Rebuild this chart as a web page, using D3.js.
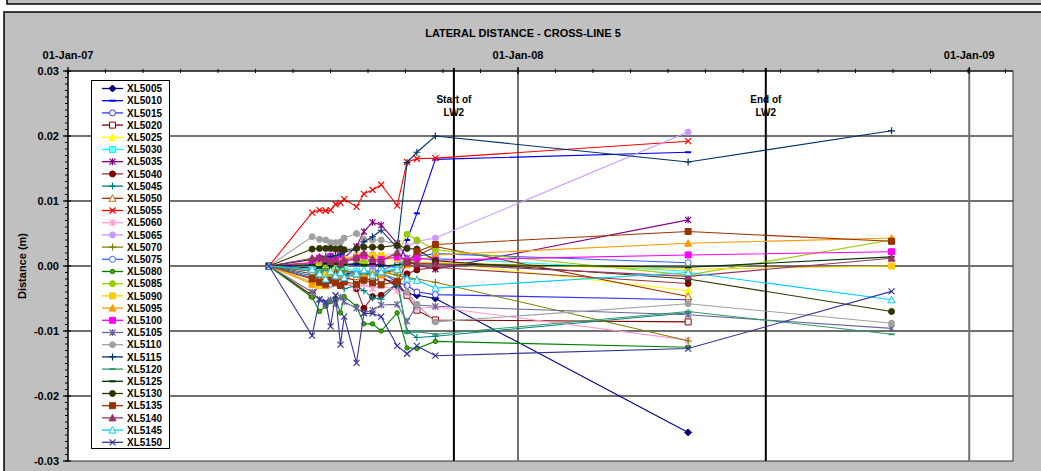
<!DOCTYPE html>
<html><head><meta charset="utf-8">
<script src="https://cdn.jsdelivr.net/npm/d3@7"></script>
<style>body{margin:0;background:#fff}svg{display:block}text{font-family:"Liberation Sans",Arial,sans-serif;font-weight:bold;fill:#000}</style>
</head><body>
<script>
// ---------- DATA ----------
const dates = ["2007-06-13","2007-07-18","2007-07-24","2007-07-29","2007-08-02","2007-08-06","2007-08-10","2007-08-13","2007-08-23","2007-08-29","2007-09-05","2007-09-12","2007-09-25","2007-10-03","2007-10-11","2007-10-26","2008-05-18","2008-10-30"];
const seriesNames = ["XL5005","XL5010","XL5015","XL5020","XL5025","XL5030","XL5035","XL5040","XL5045","XL5050","XL5055","XL5060","XL5065","XL5070","XL5075","XL5080","XL5085","XL5090","XL5095","XL5100","XL5105","XL5110","XL5115","XL5120","XL5125","XL5130","XL5135","XL5140","XL5145","XL5150"];
const XL5005 = [0,-0.0003,-0.0005,-0.0008,-0.0006,-0.0010,-0.0008,-0.0012,-0.0010,-0.0014,-0.0012,-0.0016,-0.0032,-0.0042,-0.0045,-0.0050,-0.0256,null];
const XL5010 = [0,0.0002,0.0000,0.0003,0.0001,0.0002,0.0000,0.0003,0.0002,0.0004,0.0001,0.0003,-0.0003,0.0040,0.0081,0.0164,0.0175,null];
const XL5015 = [0,-0.0018,-0.0022,-0.0015,-0.0020,-0.0012,-0.0018,-0.0010,-0.0008,-0.0012,-0.0006,-0.0010,-0.0025,-0.0030,-0.0040,-0.0044,-0.0052,null];
const XL5020 = [0,-0.0045,-0.0028,-0.0022,-0.0026,-0.0020,-0.0024,-0.0018,-0.0022,-0.0019,-0.0023,-0.0020,-0.0025,-0.0045,-0.0068,-0.0083,-0.0086,null];
const XL5025 = [0,0.0008,0.0005,0.0010,0.0006,0.0012,0.0008,0.0010,0.0014,0.0011,0.0015,0.0012,0.0008,0.0006,0.0005,0.0006,-0.0038,null];
const XL5030 = [0,-0.0005,-0.0010,-0.0008,-0.0012,-0.0006,-0.0010,-0.0004,-0.0008,-0.0011,-0.0006,-0.0009,-0.0004,0.0006,0.0010,0.0012,-0.0008,null];
const XL5035 = [0,0.0005,0.0008,0.0010,0.0012,0.0008,0.0010,0.0012,0.0030,0.0053,0.0067,0.0063,0.0035,0.0012,0.0002,-0.0005,0.0071,null];
const XL5040 = [0,-0.0012,-0.0015,-0.0010,-0.0018,-0.0013,-0.0020,-0.0025,-0.0035,-0.0065,-0.0047,-0.0045,-0.0027,-0.0012,-0.0006,-0.0002,-0.0027,null];
const XL5045 = [0,-0.0015,-0.0020,-0.0018,-0.0024,-0.0020,-0.0026,-0.0035,-0.0030,-0.0038,-0.0049,-0.0051,-0.0027,-0.0100,-0.0110,-0.0108,-0.0072,null];
const XL5050 = [0,-0.0008,-0.0012,-0.0006,-0.0010,-0.0014,-0.0008,-0.0012,-0.0016,-0.0010,-0.0014,-0.0011,-0.0006,0.0004,0.0015,0.0030,-0.0047,null];
const XL5055 = [0,0.0082,0.0086,0.0085,0.0086,0.0095,0.0097,0.0103,0.0091,0.0111,0.0117,0.0125,0.0093,0.0160,0.0165,0.0166,0.0192,null];
const XL5060 = [0,-0.0020,-0.0025,-0.0018,-0.0028,-0.0022,-0.0030,-0.0026,-0.0032,-0.0028,-0.0035,-0.0030,-0.0038,-0.0042,-0.0065,-0.0063,-0.0114,null];
const XL5065 = [0,0.0010,0.0012,0.0008,0.0014,0.0011,0.0015,0.0012,0.0016,0.0013,0.0018,0.0015,0.0020,0.0030,0.0038,0.0043,0.0206,null];
const XL5070 = [0,-0.0005,-0.0008,-0.0004,-0.0009,-0.0006,-0.0010,-0.0007,-0.0011,-0.0008,-0.0012,-0.0009,-0.0014,-0.0018,-0.0020,-0.0025,-0.0115,null];
const XL5075 = [0,-0.0025,-0.0030,-0.0022,-0.0028,-0.0020,-0.0026,-0.0018,-0.0012,-0.0010,-0.0008,-0.0006,0.0002,0.0010,0.0015,0.0019,0.0005,null];
const XL5080 = [0,-0.0048,-0.0070,-0.0062,-0.0055,-0.0051,-0.0072,-0.0047,-0.0062,-0.0089,-0.0089,-0.0100,-0.0072,-0.0126,-0.0127,-0.0116,-0.0125,null];
const XL5085 = [0,0.0003,0.0006,0.0002,0.0005,0.0008,0.0004,0.0007,0.0010,0.0006,0.0009,0.0012,0.0018,0.0049,0.0040,0.0025,-0.0014,0.0040];
const XL5090 = [0,-0.0025,-0.0030,-0.0015,-0.0010,0.0005,0.0008,0.0010,0.0015,0.0016,0.0016,0.0016,0.0012,0.0008,0.0006,0.0005,-0.0005,0.0000];
const XL5095 = [0,-0.0028,-0.0022,-0.0030,-0.0018,-0.0024,-0.0015,-0.0020,-0.0012,-0.0016,-0.0010,-0.0014,-0.0006,0.0002,0.0008,0.0017,0.0035,0.0043];
const XL5100 = [0,0.0005,0.0012,0.0008,0.0015,0.0010,0.0018,0.0006,0.0012,0.0016,0.0004,0.0010,0.0014,0.0008,0.0012,0.0009,0.0017,0.0022];
const XL5105 = [0,-0.0040,-0.0052,-0.0058,-0.0052,-0.0058,-0.0048,-0.0055,-0.0065,-0.0072,-0.0068,-0.0060,-0.0059,-0.0085,-0.0060,-0.0062,-0.0075,-0.0096];
const XL5110 = [0,0.0045,0.0041,0.0040,0.0036,0.0036,0.0037,0.0043,0.0050,0.0041,0.0040,0.0040,0.0033,-0.0040,-0.0059,-0.0086,-0.0058,-0.0088];
const XL5115 = [0,0.0010,0.0012,0.0015,0.0014,0.0016,0.0018,0.0022,0.0025,0.0037,0.0045,0.0055,0.0028,0.0159,0.0175,0.0200,0.0160,0.0208];
const XL5120 = [0,-0.0008,-0.0012,-0.0006,-0.0010,-0.0014,-0.0009,-0.0013,-0.0016,-0.0011,-0.0015,-0.0012,-0.0020,-0.0103,-0.0101,-0.0105,-0.0070,-0.0105];
const XL5125 = [0,0.0002,-0.0002,0.0004,0.0000,0.0003,-0.0001,0.0002,0.0004,0.0001,0.0003,0.0000,0.0002,0.0004,0.0003,0.0003,-0.0002,0.0014];
const XL5130 = [0,0.0026,0.0027,0.0027,0.0027,0.0026,0.0027,0.0025,0.0027,0.0029,0.0029,0.0029,0.0032,0.0027,0.0026,0.0008,-0.0020,-0.0070];
const XL5135 = [0,-0.0020,-0.0025,-0.0028,-0.0022,-0.0026,-0.0030,-0.0024,-0.0028,-0.0022,-0.0026,-0.0029,-0.0024,0.0005,0.0022,0.0033,0.0053,0.0038];
const XL5140 = [0,0.0012,0.0014,0.0012,0.0007,0.0010,0.0004,0.0009,0.0013,0.0020,0.0011,0.0008,0.0020,0.0006,0.0004,0.0003,-0.0016,0.0012];
const XL5145 = [0,-0.0005,-0.0012,-0.0020,-0.0008,-0.0015,-0.0010,-0.0018,-0.0012,-0.0006,-0.0014,-0.0009,-0.0005,-0.0020,-0.0022,-0.0034,-0.0010,-0.0052];
const XL5150 = [0,-0.0107,-0.0051,-0.0055,-0.0093,-0.0045,-0.0121,-0.0078,-0.0149,-0.0073,-0.0073,-0.0078,-0.0123,-0.0135,-0.0123,-0.0138,-0.0127,-0.0039];
const seriesValues = [XL5005,XL5010,XL5015,XL5020,XL5025,XL5030,XL5035,XL5040,XL5045,XL5050,XL5055,XL5060,XL5065,XL5070,XL5075,XL5080,XL5085,XL5090,XL5095,XL5100,XL5105,XL5110,XL5115,XL5120,XL5125,XL5130,XL5135,XL5140,XL5145,XL5150];
const yTickValues = [-0.03,-0.02,-0.01,0,0.01,0.02,0.03];
const yTickLabels = ["-0.03","-0.02","-0.01","0.00","0.01","0.02","0.03"];
const xTickDates = ["2007-01-01","2008-01-01","2009-01-01"];
const xTickLabels = ["01-Jan-07","01-Jan-08","01-Jan-09"];
const eventDates = ["2007-11-10","2008-07-20"];
const eventLabels = [["Start of","LW2"],["End of","LW2"]];
const chartTitle = "LATERAL DISTANCE - CROSS-LINE 5";
const yTitle = "Distance (m)";

// ---------- STYLES ----------
const styles = [
 {c:"#000080",m:"diamond",f:"#000080"},
 {c:"#0000FF",m:"dash",f:"#0000FF"},
 {c:"#3333FF",m:"circle",f:"#fff"},
 {c:"#800000",m:"square",f:"#fff"},
 {c:"#FFFF00",m:"triangle",f:"#FFFF00"},
 {c:"#00FFFF",m:"square",f:"#66FFFF"},
 {c:"#800080",m:"star",f:"none"},
 {c:"#993333",m:"circle",f:"#800000",mc:"#800000"},
 {c:"#008080",m:"plus",f:"none"},
 {c:"#993300",m:"triangle",f:"#fff",mc:"#CC6600"},
 {c:"#FF0000",m:"x",f:"none"},
 {c:"#FF99CC",m:"star",f:"none"},
 {c:"#CC99FF",m:"circle",f:"#CC99FF"},
 {c:"#808000",m:"plus",f:"none"},
 {c:"#3366FF",m:"circle",f:"#fff"},
 {c:"#008000",m:"circle",f:"#669900",small:true},
 {c:"#99CC00",m:"circle",f:"#99CC00"},
 {c:"#FFCC00",m:"square",f:"#FFCC00"},
 {c:"#FF9900",m:"triangle",f:"#FF9900"},
 {c:"#FF00FF",m:"square",f:"#FF00FF"},
 {c:"#666699",m:"star",f:"none"},
 {c:"#A0A0A0",m:"circle",f:"#A0A0A0"},
 {c:"#003366",m:"plus",f:"none"},
 {c:"#339966",m:"dash",f:"#339966"},
 {c:"#003300",m:"dash",f:"#003300"},
 {c:"#333300",m:"circle",f:"#333300"},
 {c:"#993300",m:"square",f:"#993300"},
 {c:"#993366",m:"triangle",f:"#993366"},
 {c:"#00CCFF",m:"triangle",f:"#fff"},
 {c:"#333399",m:"x",f:"none"}
];

const W = 1041, H = 471;
const plot = {l:68, r:1013, t:71, b:461};
const parse = d3.utcParse("%Y-%m-%d");

const x = d3.scaleUtc()
  .domain([parse("2007-01-01"), new Date(Date.UTC(2009,1,5,12))])
  .range([plot.l, plot.r]);
const y = d3.scaleLinear().domain([-0.03, 0.03]).range([plot.b, plot.t]);

const svg = d3.select("body").append("svg").attr("width", W).attr("height", H);

// frames
svg.append("rect").attr("x",7).attr("y",-10).attr("width",1100).attr("height",14)
  .attr("fill","#c0c0c0").attr("stroke","#000").attr("stroke-width",1.5);
svg.append("rect").attr("x",4).attr("y",12).attr("width",1100).attr("height",520)
  .attr("fill","#c0c0c0").attr("stroke","#000").attr("stroke-width",1.5);

// plot area
svg.append("rect").attr("x",plot.l).attr("y",plot.t).attr("width",plot.r-plot.l).attr("height",plot.b-plot.t)
  .attr("fill","#fff").attr("stroke","#333").attr("stroke-width",1);

// horizontal gridlines
svg.append("g").selectAll("line").data(yTickValues.filter(v => v > -0.03 && v < 0.03)).join("line")
  .attr("x1",plot.l).attr("x2",plot.r).attr("y1",d=>y(d)).attr("y2",d=>y(d))
  .attr("stroke","#404040").attr("stroke-width",1.5);

// vertical year gridlines
svg.append("g").selectAll("line").data(xTickDates.slice(1)).join("line")
  .attr("x1",d=>x(parse(d))).attr("x2",d=>x(parse(d))).attr("y1",plot.t-3).attr("y2",plot.b)
  .attr("stroke","#707070").attr("stroke-width",2);

// event lines
svg.append("g").selectAll("line").data(eventDates).join("line")
  .attr("x1",d=>x(parse(d))).attr("x2",d=>x(parse(d))).attr("y1",plot.t-3).attr("y2",plot.b)
  .attr("stroke","#000").attr("stroke-width",2);

// event labels
eventDates.forEach((d,i) => {
  const t = svg.append("text").attr("x", x(parse(d))).attr("y", 103)
    .attr("text-anchor","middle").attr("font-size","10px");
  eventLabels[i].forEach((s,j) => t.append("tspan").attr("x", x(parse(d))).attr("dy", j===0?0:13).text(s));
});

// left axis
const ya = svg.append("g");
ya.append("line").attr("x1",plot.l).attr("x2",plot.l).attr("y1",plot.t).attr("y2",plot.b).attr("stroke","#000").attr("stroke-width",1.2);
ya.selectAll("line.minor").data(d3.range(-30,31).map(k=>k/1000)).join("line").attr("class","minor")
  .attr("x1",plot.l-3).attr("x2",plot.l).attr("y1",d=>y(d)).attr("y2",d=>y(d)).attr("stroke","#000").attr("stroke-width",1);
ya.selectAll("line.major").data(yTickValues).join("line").attr("class","major")
  .attr("x1",plot.l-5).attr("x2",plot.l+3).attr("y1",d=>y(d)).attr("y2",d=>y(d)).attr("stroke","#000").attr("stroke-width",1.2);
ya.selectAll("text").data(yTickValues).join("text")
  .attr("x",plot.l-9).attr("y",d=>y(d)+4).attr("text-anchor","end").attr("font-size","11px")
  .text((d,i)=>yTickLabels[i]);
svg.append("text").attr("transform",`translate(26,${(plot.t+plot.b)/2}) rotate(-90)`)
  .attr("text-anchor","middle").attr("font-size","11px").text(yTitle);

// top axis
const xa = svg.append("g");
xa.append("line").attr("x1",plot.l).attr("x2",plot.r).attr("y1",plot.t).attr("y2",plot.t).attr("stroke","#000").attr("stroke-width",1.2);
const minorTicks = d3.range(0, 26).map(k => new Date(parse("2007-01-01").getTime() + k*365/12*86400000))
  .filter(d => x(d) <= plot.r);
xa.selectAll("line.minor").data(minorTicks).join("line").attr("class","minor")
  .attr("x1",d=>x(d)).attr("x2",d=>x(d)).attr("y1",plot.t-2).attr("y2",plot.t+2).attr("stroke","#000").attr("stroke-width",1);
xa.selectAll("line.major").data(xTickDates).join("line").attr("class","major")
  .attr("x1",d=>x(parse(d))).attr("x2",d=>x(parse(d))).attr("y1",plot.t-4).attr("y2",plot.t+3).attr("stroke","#000").attr("stroke-width",1.2);
xa.selectAll("text").data(xTickDates).join("text")
  .attr("x",d=>x(parse(d))).attr("y",59).attr("text-anchor","middle").attr("font-size","11px")
  .text((d,i)=>xTickLabels[i]);

// title
svg.append("text").attr("x",523).attr("y",37).attr("text-anchor","middle").attr("font-size","11px").text(chartTitle);

// markers
function markerPath(m, s) {
  switch (m) {
    case "diamond": return `M0,${-s-0.5}L${s+0.5},0L0,${s+0.5}L${-s-0.5},0Z`;
    case "square": return `M${-s},${-s}H${s}V${s}H${-s}Z`;
    case "triangle": return `M0,${-s-0.5}L${s+0.5},${s}L${-s-0.5},${s}Z`;
    case "x": return `M${-s},${-s}L${s},${s}M${-s},${s}L${s},${-s}`;
    case "plus": return `M${-s-0.5},0H${s+0.5}M0,${-s-0.5}V${s+0.5}`;
    case "star": return `M${-s},${-s}L${s},${s}M${-s},${s}L${s},${-s}M0,${-s-0.5}V${s+0.5}`;
    case "dash": return `M${-s},0H${s}`;
    case "circle": return d3.arc()({innerRadius:0,outerRadius:s,startAngle:0,endAngle:2*Math.PI});
  }
}
function drawMarker(g, st) {
  const s = st.small ? 2.2 : 3;
  const p = g.append("path").attr("d", markerPath(st.m, s));
  const mc = st.mc || st.c;
  if (st.m === "x" || st.m === "plus" || st.m === "star") {
    p.attr("fill","none").attr("stroke",mc).attr("stroke-width",1.2);
  } else if (st.m === "dash") {
    p.attr("fill","none").attr("stroke",mc).attr("stroke-width",2);
  } else {
    p.attr("fill",st.f).attr("stroke",mc).attr("stroke-width",1);
  }
}

// series
const line = d3.line().defined(d => d.v !== null).x(d => x(d.date)).y(d => y(d.v));
const series = seriesNames.map((name, i) => ({
  name, style: styles[i],
  points: seriesValues[i].map((v, j) => ({date: parse(dates[j]), v}))
}));
const sg = svg.append("g");
series.forEach(s => {
  const g = sg.append("g");
  g.append("path").attr("d", line(s.points)).attr("fill","none").attr("stroke", s.style.c).attr("stroke-width",1.1);
  s.points.filter(p => p.v !== null).forEach(p => {
    drawMarker(g.append("g").attr("transform",`translate(${x(p.date)},${y(p.v)})`), s.style);
  });
});

// legend
const lg = svg.append("g");
lg.append("rect").attr("x",91.5).attr("y",80.5).attr("width",78).attr("height",368)
  .attr("fill","#fff").attr("stroke","#000").attr("stroke-width",1);
series.forEach((s, i) => {
  const yy = 88.5 + i * 12.2;
  const g = lg.append("g");
  g.append("line").attr("x1",102).attr("x2",123).attr("y1",yy).attr("y2",yy).attr("stroke",s.style.c).attr("stroke-width",1.3);
  drawMarker(g.append("g").attr("transform",`translate(112.5,${yy})`), s.style);
  g.append("text").attr("x",127).attr("y",yy+3.6).attr("font-size","10px").text(s.name);
});
</script>
</body></html>
